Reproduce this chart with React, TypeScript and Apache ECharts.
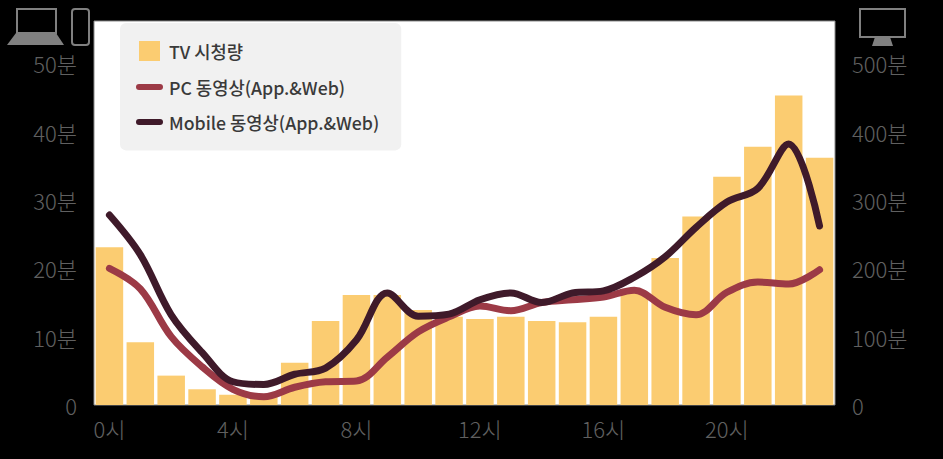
import React, { useEffect, useRef } from "react";
import * as echarts from "echarts";

const hours = ["0시","1시","2시","3시","4시","5시","6시","7시","8시","9시","10시","11시","12시","13시","14시","15시","16시","17시","18시","19시","20시","21시","22시","23시"];
const tvValues = [231,92,43,23,15,12,62,123,161,161,139,129,126,129,123,121,129,164,215,276,334,378,453,362];
const pcValues = [20,17,10,5.6,2.3,1.2,2.6,3.4,3.5,7,10.7,12.9,14.5,13.8,15,15.4,15.8,16.8,14.3,13.2,16.5,18,17.7,19.8];
const mobileValues = [27.8,22,13.2,7.7,3.4,3,4.5,5.4,9.5,16.4,13,13.3,15.4,16.4,15,16.4,16.7,18.7,21.7,26,29.7,31.7,38.2,26.2];
const seriesNames = ["TV 시청량", "PC 동영상(App.&Web)", "Mobile 동영상(App.&Web)"];

const FONT = '"Noto Sans CJK KR", "Noto Sans", sans-serif';
const GREY = "#606060";
const ICON = "#808080";

export default function App() {
  const ref = useRef<HTMLDivElement>(null);
  useEffect(() => {
    document.body.style.margin = "0";
    document.body.style.background = "#000";
    const chart = echarts.init(ref.current!, undefined, { renderer: "svg" });
    const axisLabel = { color: GREY, fontSize: 22, fontFamily: FONT, fontWeight: 300 as const, margin: 17 };
    const yLabel = { ...axisLabel, showMaxLabel: false, padding: [0, 0, 4, 0], formatter: (v: number) => (v === 0 ? "0" : `${v}분`) };
    const iconStroke = { fill: "none", stroke: ICON, lineWidth: 2 };
    const legendLine = { width: 6, cap: "round" };
    chart.setOption({
      animation: false,
      backgroundColor: "#000",
      grid: { show: true, left: 94, right: 108, top: 21, bottom: 54, backgroundColor: "#fff", borderColor: "#8a8a8a", borderWidth: 1 },
      legend: {
        left: 120, top: 23, orient: "vertical", backgroundColor: "#f1f1f1", borderRadius: 6,
        padding: [18, 22, 19.6, 16], itemWidth: 21, itemHeight: 20, itemGap: 17.2,
        textStyle: { color: "#3a3a3a", fontSize: 17.7, fontFamily: FONT, fontWeight: 500, padding: [0, 0, 0, 4] },
        data: [
          { name: seriesNames[0], icon: "rect" },
          { name: seriesNames[1], itemStyle: { opacity: 0 }, lineStyle: legendLine },
          { name: seriesNames[2], itemStyle: { opacity: 0 }, lineStyle: legendLine },
        ],
      },
      xAxis: {
        type: "category", data: hours,
        axisLine: { show: false }, axisTick: { show: false },
        axisLabel: { ...axisLabel, interval: 3, margin: 12 },
      },
      yAxis: [
        { type: "value", min: 0, max: 56.2, interval: 10, splitLine: { show: false }, axisLine: { show: false }, axisTick: { show: false }, axisLabel: yLabel },
        { type: "value", min: 0, max: 562, interval: 100, position: "right", splitLine: { show: false }, axisLine: { show: false }, axisTick: { show: false }, axisLabel: yLabel },
      ],
      series: [
        { name: seriesNames[0], type: "bar", yAxisIndex: 1, data: tvValues, barWidth: 27.5, itemStyle: { color: "#fbcc71" } },
        { name: seriesNames[1], type: "line", yAxisIndex: 0, data: pcValues, smooth: 0.35, showSymbol: false, symbol: "none",
          lineStyle: { color: "#9c3a46", width: 7, cap: "round", join: "round" }, itemStyle: { color: "#9c3a46" } },
        { name: seriesNames[2], type: "line", yAxisIndex: 0, data: mobileValues, smooth: 0.35, showSymbol: false, symbol: "none",
          lineStyle: { color: "#3f1a2a", width: 7, cap: "round", join: "round" }, itemStyle: { color: "#3f1a2a" } },
      ],
      graphic: [
        { type: "rect", shape: { x: 17, y: 9, width: 39, height: 24 }, style: iconStroke },
        { type: "polygon", shape: { points: [[16, 33], [56, 33], [64, 45], [7, 45]] }, style: { fill: ICON } },
        { type: "rect", shape: { x: 72, y: 9, width: 17, height: 36, r: 3 }, style: iconStroke },
        { type: "rect", shape: { x: 860, y: 9, width: 45, height: 28 }, style: iconStroke },
        { type: "polygon", shape: { points: [[875, 37], [890, 37], [893, 46], [872, 46]] }, style: { fill: ICON } },
      ],
    });
    return () => chart.dispose();
  }, []);
  return <div ref={ref} style={{ width: 943, height: 459 }} />;
}
